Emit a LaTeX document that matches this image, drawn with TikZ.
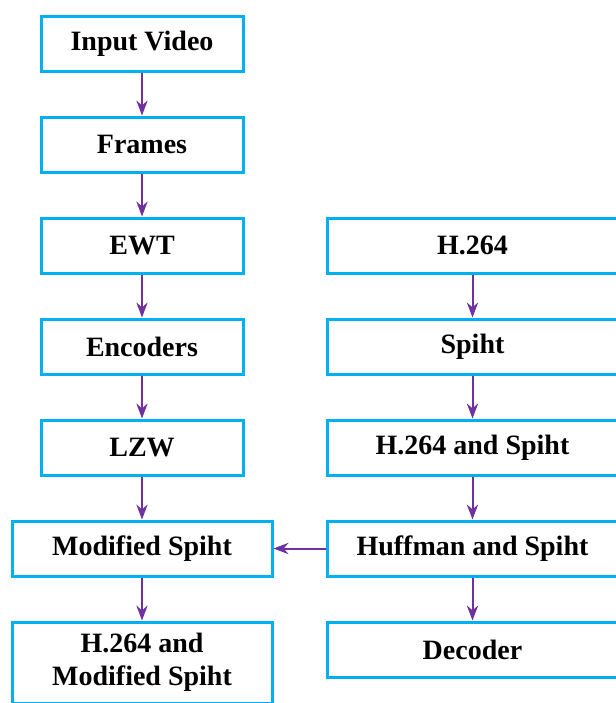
\documentclass[tikz,border=0pt]{standalone}
\usepackage{fontspec}
\setmainfont{Liberation Serif}
\usetikzlibrary{positioning, arrows.meta, shadows}

\definecolor{boxblue}{RGB}{0,176,240}
\definecolor{flowpurple}{RGB}{112,48,160}

\begin{document}
\begin{tikzpicture}[>=Stealth, node distance=21.5pt,
    block/.style={draw=boxblue, line width=1.5pt, fill=white, minimum height=27.5pt,
        inner sep=2pt, align=center, font=\fontsize{14}{16.5}\selectfont\bfseries,
        drop shadow={opacity=0.25, shadow xshift=1pt, shadow yshift=-1pt}},
    flow/.style={->, draw=flowpurple, line width=1pt}]
    \useasboundingbox (0,0) rectangle (308pt,-351.5pt);
    % Left column
    \node[block, minimum width=101pt] (input) at (71pt,-21.75pt) {Input Video};
    \node[block, minimum width=101pt, below=of input] (frames) {Frames};
    \node[block, minimum width=101pt, below=of frames] (ewt) {EWT};
    \node[block, minimum width=101pt, below=of ewt] (enc) {Encoders};
    \node[block, minimum width=101pt, below=of enc] (lzw) {LZW};
    \node[block, minimum width=130pt, below=of lzw] (mspiht) {Modified Spiht};
    \node[block, minimum width=130pt, minimum height=40.5pt, below=of mspiht] (hmspiht) {H.264 and\\Modified Spiht};
    % Right column
    \node[block, minimum width=145.5pt] (h264) at (236.25pt,-122.75pt) {H.264};
    \node[block, minimum width=145.5pt, below=of h264] (spiht) {Spiht};
    \node[block, minimum width=145.5pt, below=of spiht] (hspiht) {H.264 and Spiht};
    \node[block, minimum width=145.5pt, below=of hspiht] (huff) {Huffman and Spiht};
    \node[block, minimum width=145.5pt, below=of huff] (dec) {Decoder};
    % Arrows
    \draw[flow] (input) -- (frames);
    \draw[flow] (frames) -- (ewt);
    \draw[flow] (ewt) -- (enc);
    \draw[flow] (enc) -- (lzw);
    \draw[flow] (lzw) -- (mspiht);
    \draw[flow] (mspiht) -- (hmspiht);
    \draw[flow] (h264) -- (spiht);
    \draw[flow] (spiht) -- (hspiht);
    \draw[flow] (hspiht) -- (huff);
    \draw[flow] (huff) -- (dec);
    \draw[flow] (huff.west) -- (huff.west -| mspiht.east);
\end{tikzpicture}
\end{document}
